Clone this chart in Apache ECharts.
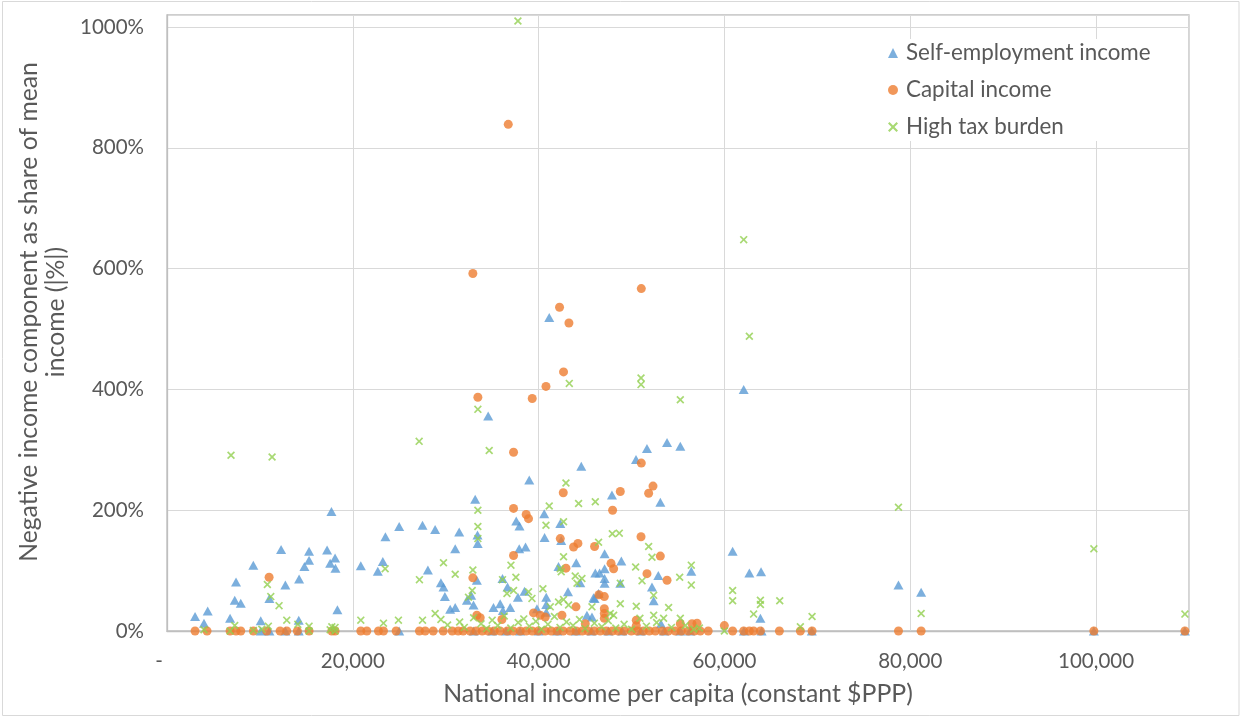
<!DOCTYPE html>
<html>
<head>
<meta charset="utf-8">
<title>Negative income components vs national income</title>
<script src="https://cdn.jsdelivr.net/npm/echarts@6/dist/echarts.min.js"></script>
<style>
  html, body { margin: 0; padding: 0; background: #ffffff; }
  #chart { width: 1250px; height: 717px; }
</style>
</head>
<body>
<div id="chart"></div>
<script>
// Series names (legend order)
const seriesNames = ['Self-employment income', 'Capital income', 'High tax burden'];

// Axis ranges: national income per capita ($PPP) and share of mean income (%)
const xRange = [0, 110000, 20000];
const yRange = [0, 1020, 200];

// [national income per capita, negative component as % of mean income]
const selfEmployment = [
  [3020, 24], [3980, 13], [4380, 33], [6790, 21], [7290, 51], [7430, 81], [7940, 46],
  [9290, 109], [10090, 17], [11020, 54], [12280, 135], [12740, 76], [14180, 18], [14220, 86],
  [14790, 107], [15290, 117], [15290, 132], [17230, 134], [17700, 198], [17560, 112],
  [18090, 121], [18130, 104], [18340, 35], [20860, 108], [22690, 99], [23230, 115],
  [23510, 156], [24990, 173], [27500, 175], [28860, 168], [28080, 101], [29480, 80],
  [29760, 73], [29910, 57], [30480, 36], [31450, 164], [31020, 136], [33170, 218],
  [33420, 159], [33440, 145], [31020, 39], [32280, 51], [32990, 43], [33350, 84],
  [35140, 39], [35860, 45], [36110, 87], [36650, 73], [36940, 39], [37770, 56],
  [37590, 182], [37940, 174], [37910, 136], [38590, 139], [38990, 250], [38480, 66],
  [39820, 37], [40600, 194], [40640, 155], [40820, 56], [40820, 44], [40820, 31],
  [41140, 519], [42330, 178], [42430, 150], [42140, 107], [44050, 113], [44480, 80],
  [44590, 273], [46100, 96], [46560, 96], [47100, 128], [47100, 103], [47100, 87],
  [47100, 79], [45910, 55], [45200, 26], [45740, 23], [47890, 225], [48900, 116],
  [48790, 79], [52200, 73], [52380, 50], [52880, 92], [53100, 213], [56430, 99],
  [53170, 12], [50480, 284], [51660, 302], [53820, 312], [55250, 306], [34570, 356],
  [62070, 400], [60880, 132], [62680, 96], [63940, 98], [63870, 21], [78730, 76],
  [81170, 64], [43160, 65], [46020, 54], [46450, 62], [32740, 59], [36150, 34],
  [10090, 0], [11020, 0], [12740, 0], [14180, 0], [24990, 0], [33000, 0], [35000, 0],
  [36500, 0], [38000, 0], [40000, 0], [42000, 0], [44000, 0], [45700, 0], [47500, 0],
  [49000, 0], [51000, 0], [53500, 0], [55250, 0], [56300, 0], [62100, 0], [64000, 0],
  [69400, 0], [99760, 0], [109560, 0]
];

const capitalIncome = [
  [10990, 89], [36730, 839], [32920, 592], [51050, 567], [42250, 536], [43260, 510],
  [42680, 429], [40790, 405], [33460, 387], [39310, 385], [37300, 296], [51050, 278],
  [42650, 229], [48790, 231], [52310, 240], [51840, 228], [47960, 200], [37300, 203],
  [38660, 193], [38910, 186], [37300, 125], [42330, 153], [43760, 139], [44230, 145],
  [46020, 140], [51020, 156], [53100, 124], [51660, 95], [53820, 84], [47790, 112],
  [48070, 103], [42940, 104], [32920, 88], [44020, 40], [46490, 60], [47070, 57],
  [47070, 37], [47070, 29], [47070, 21], [39450, 30], [40170, 26], [40710, 23],
  [42510, 26], [36050, 19], [33350, 26], [50510, 18], [50510, 9], [55250, 12],
  [56510, 12], [57050, 13], [45020, 12], [59990, 9], [33710, 22],
  [3020, 0], [4310, 0], [6790, 0], [7430, 0], [7940, 0], [9300, 0], [10740, 0],
  [12170, 0], [12890, 0], [14030, 0], [15290, 0], [17740, 0], [18090, 0], [20860, 0],
  [21510, 0], [22760, 0], [23300, 0], [24660, 0], [27170, 0], [27790, 0], [28650, 0],
  [29730, 0], [30700, 0], [31340, 0], [31880, 0], [32630, 0], [33280, 0], [33930, 0],
  [34570, 0], [35220, 0], [35860, 0], [36620, 0], [37260, 0], [38020, 0], [38660, 0],
  [39310, 0], [39960, 0], [40710, 0], [41360, 0], [42000, 0], [42650, 0], [43400, 0],
  [44050, 0], [44700, 0], [45340, 0], [45990, 0], [46630, 0], [47280, 0], [47930, 0],
  [48570, 0], [49220, 0], [49970, 0], [50620, 0], [51270, 0], [51910, 0], [52560, 0],
  [53310, 0], [53960, 0], [54710, 0], [55360, 0], [56110, 0], [56760, 0], [57400, 0],
  [58250, 0], [60880, 0], [62070, 0], [62680, 0], [63140, 0], [63870, 0], [65910, 0],
  [68170, 0], [69430, 0], [78730, 0], [81170, 0], [99760, 0], [109560, 0]
];

const highTaxBurden = [
  [3980, 2], [7290, 9], [10800, 77], [11170, 57], [12060, 42], [10910, 8], [12890, 18],
  [14080, 11], [15290, 8], [17740, 7], [20860, 18], [23300, 13], [23480, 103], [24910, 18],
  [27170, 85], [27500, 18], [28860, 29], [29480, 19], [29760, 113], [6890, 291],
  [11310, 288], [37770, 1010], [43300, 410], [51020, 419], [51020, 408], [55250, 383],
  [33460, 367], [27140, 314], [34680, 299], [42940, 245], [62070, 648], [62680, 488],
  [78730, 205], [99760, 136], [109560, 28], [81170, 29], [60880, 67], [60880, 50],
  [63870, 51], [63870, 44], [65950, 50], [63140, 28], [69430, 24], [68170, 7], [59990, 0],
  [44300, 211], [46100, 214], [41140, 207], [33460, 200], [33460, 173], [33460, 153],
  [40790, 175], [42680, 181], [31020, 94], [32920, 101], [37020, 109], [37550, 89],
  [36110, 85], [36590, 62], [37300, 67], [32850, 67], [32450, 56], [38910, 65],
  [39280, 54], [40460, 70], [42680, 123], [42330, 103], [42430, 98], [43940, 91],
  [44660, 87], [44130, 79], [46450, 147], [47930, 161], [48680, 162], [50440, 106],
  [51130, 83], [51840, 140], [52200, 122], [52380, 59], [53990, 39], [55180, 89],
  [56430, 109], [56430, 76], [48790, 79], [48790, 45], [50510, 41], [45740, 40],
  [47710, 29], [48070, 26], [42140, 48], [42680, 52], [43220, 43], [41250, 40],
  [52380, 26], [53450, 21], [55250, 21],
  [30200, 10], [31500, 15], [32000, 6], [33000, 22], [33800, 12], [34400, 4], [35000, 18],
  [35600, 9], [36300, 25], [37000, 5], [37800, 14], [38400, 20], [39000, 8], [39700, 16],
  [40300, 3], [41000, 11], [41700, 24], [42300, 6], [43000, 15], [43700, 9], [44400, 19],
  [45000, 4], [46000, 13], [46800, 7], [47500, 17], [48300, 5], [49200, 11], [50000, 3],
  [50900, 21], [51600, 8], [52700, 14], [54300, 6], [55800, 9], [56700, 3], [57300, 5],
  [6790, 0], [9300, 1], [10200, 3], [15290, 0], [17560, 2], [18090, 0], [18090, 6]
];

const FONT = 'Lato';
const TEXT = '#595959';
const crossSymbol = 'path://M0,1.5 L1.5,0 L5,3.5 L8.5,0 L10,1.5 L6.5,5 L10,8.5 L8.5,10 L5,6.5 L1.5,10 L0,8.5 L3.5,5 Z';

const chart = echarts.init(document.getElementById('chart'), null, { renderer: 'canvas' });

chart.setOption({
  backgroundColor: '#ffffff',
  animation: false,
  textStyle: { fontFamily: FONT, color: TEXT },
  graphic: [{
    type: 'rect',
    silent: true,
    z: -10,
    shape: { x: 2.5, y: 1.5, width: 1236.5, height: 714 },
    style: { fill: 'none', stroke: '#d9d9d9', lineWidth: 1 }
  }],
  grid: {
    left: 167, right: 61, top: 15, bottom: 86,
    show: true, borderColor: '#bfbfbf', borderWidth: 1.3, backgroundColor: 'transparent'
  },
  legend: {
    orient: 'vertical',
    left: 882, top: 39,
    itemWidth: 10, itemHeight: 10, itemGap: 13,
    padding: [2, 30, 2, 6],
    backgroundColor: '#ffffff',
    textStyle: { fontFamily: FONT, fontSize: 22.4, color: TEXT, lineHeight: 24, padding: [0, 0, 0, 3] },
    data: seriesNames
  },
  xAxis: {
    type: 'value',
    min: xRange[0], max: xRange[1], interval: xRange[2],
    name: 'National income per capita (constant $PPP)',
    nameLocation: 'middle', nameGap: 51,
    nameTextStyle: { fontFamily: FONT, fontSize: 24.8, color: TEXT },
    axisLine: { show: true, lineStyle: { color: '#bfbfbf', width: 1.3 } },
    axisTick: { show: false },
    axisLabel: {
      fontFamily: FONT, fontSize: 20.5, color: TEXT, margin: 20,
      formatter: v => v === 0 ? '-   ' : (v > 100000 ? '' : v.toLocaleString('en-US'))
    },
    splitLine: { show: true, lineStyle: { color: '#d9d9d9', width: 1 } }
  },
  yAxis: {
    type: 'value',
    min: yRange[0], max: yRange[1], interval: yRange[2],
    name: 'Negative income component as share of mean\nincome (|%|)',
    nameLocation: 'middle', nameGap: 73, nameRotate: 90,
    nameTextStyle: {
      fontFamily: FONT, fontSize: 24.7, color: TEXT, lineHeight: 27, align: 'center',
      padding: [0, 0, 0, 22]
    },
    axisLine: { show: true, lineStyle: { color: '#bfbfbf', width: 1.3 } },
    axisTick: { show: false },
    axisLabel: {
      fontFamily: FONT, fontSize: 20.5, color: TEXT, margin: 23,
      formatter: v => v > 1000 ? '' : v + '%'
    },
    splitLine: { show: true, lineStyle: { color: '#d9d9d9', width: 1 } }
  },
  series: [
    {
      name: seriesNames[0], type: 'scatter', data: selfEmployment,
      symbol: 'triangle', symbolSize: [10, 9],
      itemStyle: { color: '#5b9bd5' }
    },
    {
      name: seriesNames[1], type: 'scatter', data: capitalIncome,
      symbol: 'circle', symbolSize: 9,
      itemStyle: { color: '#ed7d31' }
    },
    {
      name: seriesNames[2], type: 'scatter', data: highTaxBurden,
      symbol: crossSymbol, symbolSize: 8,
      itemStyle: { color: '#92d050' }
    }
  ]
});
</script>
</body>
</html>
